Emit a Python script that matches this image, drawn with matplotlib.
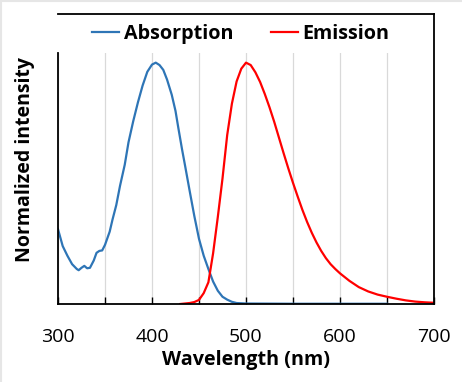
import matplotlib
matplotlib.use("Agg")
import matplotlib.pyplot as plt
from matplotlib.lines import Line2D
from matplotlib.ticker import MultipleLocator

abs_wl = [300, 305, 310, 315, 320, 322, 325, 328, 331, 334, 338, 341, 344, 347, 350,
          355, 358, 362, 366, 371, 375, 380, 385, 390, 395, 400, 404, 408, 412, 416,
          421, 425, 428, 432, 435, 440, 445, 450, 455, 460, 465, 470, 475, 480, 485,
          490, 500, 550, 600, 650]
abs_val = [0.31, 0.24, 0.20, 0.165, 0.145, 0.14, 0.15, 0.158, 0.148, 0.15, 0.18, 0.212,
           0.22, 0.222, 0.245, 0.30, 0.35, 0.41, 0.49, 0.577, 0.67, 0.757, 0.835, 0.905,
           0.962, 0.992, 1.0, 0.99, 0.97, 0.93, 0.867, 0.80, 0.73, 0.64, 0.577, 0.47,
           0.365, 0.27, 0.20, 0.145, 0.093, 0.055, 0.03, 0.018, 0.009, 0.004, 0.002,
           0.001, 0.001, 0.001]

em_wl = [430, 440, 445, 450, 455, 460, 465, 470, 475, 480, 485, 490, 495, 500,
         505, 510, 515, 520, 525, 530, 535, 540, 545, 550, 555, 560, 565, 570, 575,
         580, 585, 590, 595, 600, 610, 620, 630, 640, 650, 660, 670, 680, 690, 700]
em_val = [0.0, 0.004, 0.008, 0.017, 0.045, 0.09, 0.21, 0.36, 0.52, 0.70, 0.83, 0.922,
          0.975, 1.0, 0.99, 0.96, 0.92, 0.87, 0.815, 0.755, 0.69, 0.625, 0.562, 0.502,
          0.445, 0.39, 0.34, 0.295, 0.255, 0.22, 0.19, 0.165, 0.145, 0.127, 0.096,
          0.07, 0.052, 0.039, 0.03, 0.022, 0.015, 0.01, 0.007, 0.005]

x_ticks = [300, 400, 500, 600, 700]
series_labels = ["Absorption", "Emission"]

W, H = 462, 382
fig = plt.figure(figsize=(W / 100, H / 100), dpi=100)
L, R, B, T = 58, 434, 304, 53
ax = fig.add_axes([L / W, 1 - B / H, (R - L) / W, (B - T) / H])

blue = "#2E75B6"
red = "#FF0000"
ax.plot(abs_wl, abs_val, color=blue, lw=1.6, label=series_labels[0])
ax.plot(em_wl, em_val, color=red, lw=1.6, label=series_labels[1])

ax.set_xlim(300, 700)
ax.set_ylim(0, 1.04)
ax.xaxis.set_major_locator(MultipleLocator(100))
ax.xaxis.set_minor_locator(MultipleLocator(50))
ax.set_xticks(x_ticks)
ax.set_xticklabels([str(v) for v in x_ticks], fontfamily="Open Sans", fontsize=14)
ax.tick_params(axis="x", which="both", direction="in", length=5, width=1, pad=17, color="black")
ax.set_yticks([])
ax.grid(axis="x", which="both", color="#d9d9d9", lw=0.9)
ax.set_axisbelow(True)
for s in ["top", "right"]:
    ax.spines[s].set_visible(False)
for s in ["left", "bottom"]:
    ax.spines[s].set_linewidth(1.3)
    ax.spines[s].set_color("black")

ax.set_xlabel("Wavelength (nm)", fontfamily="Open Sans", fontweight="bold", fontsize=14.2, labelpad=3)
ax.set_ylabel("Normalized intensity", fontfamily="Open Sans", fontweight="bold", fontsize=14.0)
ax.yaxis.set_label_coords(-0.062, 0.574)

# outer frame lines (top and right)
fig.add_artist(Line2D([L / W, R / W], [1 - 14 / H, 1 - 14 / H], color="black", lw=1.3))
fig.add_artist(Line2D([R / W, R / W], [1 - 14 / H, 1 - B / H], color="black", lw=1.3))
# faint image border
fig.add_artist(Line2D([0, 1], [1 - 0.5 / H, 1 - 0.5 / H], color="#e6e6e6", lw=1.5))
fig.add_artist(Line2D([0.5 / W, 0.5 / W], [0, 1], color="#e6e6e6", lw=1.5))

fig.legend(loc="center", bbox_to_anchor=(241 / W, 1 - 34 / H), ncol=2, frameon=False,
           prop={"family": "Open Sans", "weight": "bold", "size": 14.2},
           handlelength=1.35, handletextpad=0.25, columnspacing=1.9)

fig.savefig("out.png", dpi=100)
